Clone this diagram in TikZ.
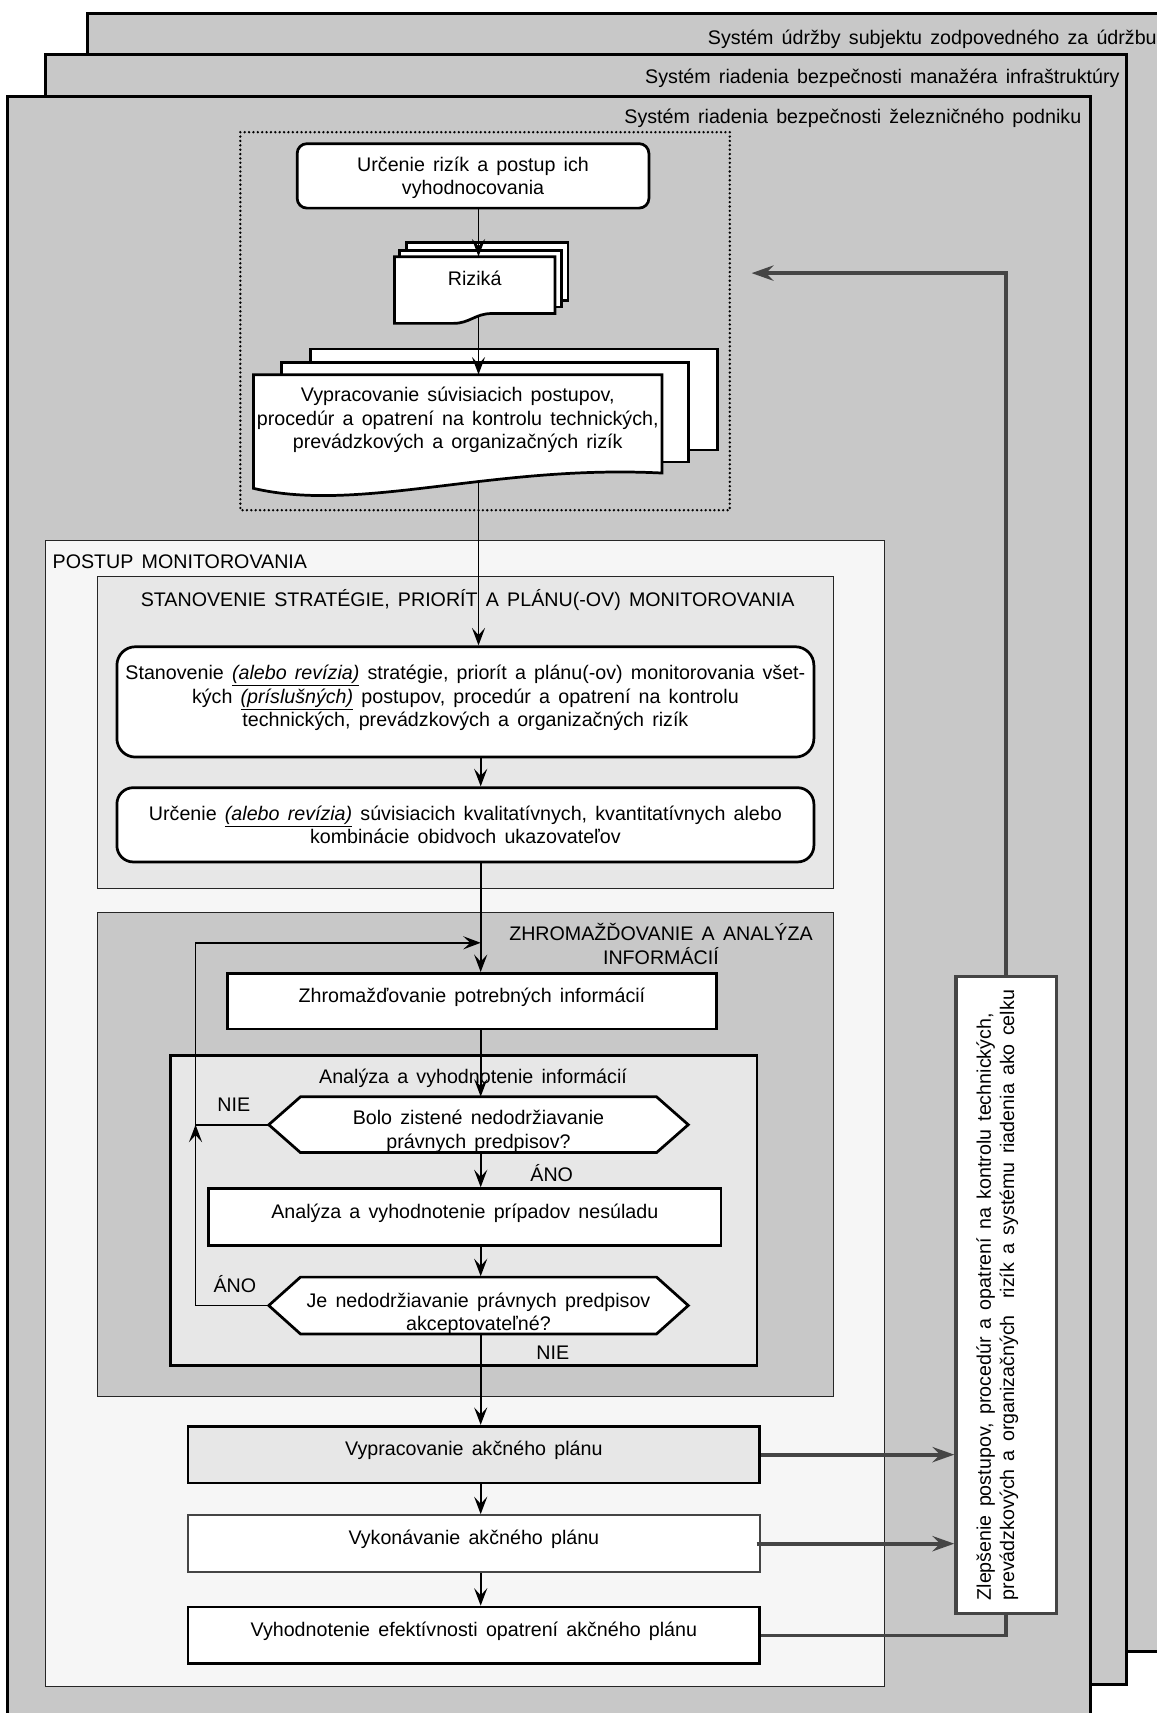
\documentclass[tikz,border=0pt]{standalone}
\usepackage{fontspec}
\setmainfont{Liberation Sans}[WordSpace=1.5]
\usetikzlibrary{arrows.meta,calc}
\definecolor{bggray}{gray}{0.785}
\definecolor{palebg}{gray}{0.965}
\definecolor{midbg}{gray}{0.905}
\definecolor{darkln}{gray}{0.27}
\newcommand\txtup[1]{\rule[-#1]{0pt}{0pt}}
\newcommand\txtdown[1]{\rule{0pt}{#1}}
\tikzset{
  every node/.style={font=\fontsize{18}{21.5}\selectfont},
  frame/.style={fill=bggray, draw=black, line width=2.6pt},
  grp/.style={draw=black!85, line width=0.9pt},
  box/.style={draw=black, line width=2.5pt, fill=white, inner sep=0pt, align=center},
  docln/.style={draw=black, fill=white, line width=2.5pt},
  txt/.style={inner sep=0pt, align=center},
  lbl/.style={inner sep=0pt},
  conn/.style={line width=1.5pt, -{Stealth[length=16pt,width=12pt,inset=6.5pt]}},
  fb/.style={draw=darkln, line width=3.5pt},
  fbarr/.style={fb, -{Stealth[length=20pt,width=14pt,inset=7pt]}}
}
\begin{document}
\begin{tikzpicture}[x=1pt,y=-1pt]
\useasboundingbox (0,0) rectangle (1059,1568);
\clip (0,0) rectangle (1059,1568);
% outer stacked frames
\draw[frame] (80,12) rectangle (1085,1512);
\draw[frame] (42,50) rectangle (1031,1542);
\draw[frame] (7,88) rectangle (998,1590);
\node[lbl, anchor=east] (f3l) at (1059,36) {Systém údržby subjektu zodpovedného za údržbu};
\node[lbl, anchor=east] (f2l) at (1025,72) {Systém riadenia bezpečnosti manažéra infraštruktúry};
\node[lbl, anchor=east] (f1l) at (990,108) {Systém riadenia bezpečnosti železničného podniku};
% dotted group
\draw[line width=2.4pt, dash pattern=on 0pt off 4pt, line cap=round] (220,121) rectangle (668,467);
% risk box
\node[box, rounded corners=9pt, minimum width=322pt, minimum height=59pt] (urc) at (433,161) {\txtdown{17pt}Určenie rizík a postup ich\\vyhodnocovania};
% Riziká document stack
\draw[docln] (372,222) rectangle (520,275);
\draw[docln] (366,229) rectangle (514,281);
\draw[docln] (361,296) -- (415,296) .. controls (430,296) and (435,287) .. (450,287) -- (508,287) -- (508,235) -- (361,235) -- cycle;
\node[txt, minimum width=147pt, minimum height=40pt] (riz) at (434.5,255) {Riziká};
\coordinate (rizb) at (438,289);
% big document stack
\draw[docln] (284,319.5) rectangle (657,412);
\draw[docln] (258,332) rectangle (630,423);
\draw[docln] (232,343) -- (606,343) -- (606,433) .. controls (450,425) and (330,470) .. (232,447) -- cycle;
\node[txt, minimum width=374pt, minimum height=83pt] (bigdoc) at (419,384.5) {Vypracovanie súvisiacich postupov,\\procedúr a opatrení na kontrolu technických,\\prevádzkových a organizačných rizík};
\coordinate (bdb) at (438,441);
\coordinate (mx) at (438,0);
\coordinate (mxb) at (440,0);
% monitoring process
\draw[grp, fill=palebg] (42,495) rectangle (810,1544);
\node[lbl, anchor=west] (postup) at (48,514) {POSTUP MONITOROVANIA};
\draw[grp, fill=midbg] (89,528) rectangle (763,813);
\node[txt] (stanT) at (428,549) {STANOVENIE STRATÉGIE, PRIORÍT A PLÁNU(-OV) MONITOROVANIA};
\node[box, rounded corners=17pt, minimum width=638pt, minimum height=101pt] (stan) at (426,642.5) {Stanovenie \underline{\textit{(alebo revízia)}} stratégie, priorít a plánu(-ov) monitorovania všet-\\kých \underline{\textit{(príslušných)}} postupov, procedúr a opatrení na kontrolu\\technických, prevádzkových a organizačných rizík\txtup{11pt}};
\node[box, rounded corners=15pt, minimum width=638pt, minimum height=68pt] (urc2) at (426,755) {Určenie \underline{\textit{(alebo revízia)}} súvisiacich kvalitatívnych, kvantitatívnych alebo\\kombinácie obidvoch ukazovateľov};
% collection and analysis
\draw[grp, fill=bggray] (89,835) rectangle (763,1278);
\node[txt] (zhrT) at (605,864) {ZHROMAŽĎOVANIE A ANALÝZA\\INFORMÁCIÍ};
\node[box, minimum width=448pt, minimum height=51pt] (zhr) at (432,916.5) {Zhromažďovanie potrebných informácií\txtup{11pt}};
\draw[line width=2.5pt, fill=midbg] (156,966) rectangle (693,1250);
\node[txt] (anT) at (433,987) {Analýza a vyhodnotenie informácií};
\draw[line width=2.5pt, fill=white] (246,1029.5) -- (275,1004) -- (601,1004) -- (630,1029.5) -- (601,1055) -- (275,1055) -- cycle;
\node[txt, minimum width=384pt, minimum height=51pt] (h1) at (438,1029.5) {\txtdown{25pt}Bolo zistené nedodržiavanie\\právnych predpisov?};
\node[lbl] (nie1) at (214,1011) {NIE};
\node[lbl] (ano1) at (505,1074) {ÁNO};
\node[box, minimum width=469pt, minimum height=52pt] (anal) at (425.5,1114) {Analýza a vyhodnotenie prípadov nesúladu\txtup{10pt}};
\draw[line width=2.5pt, fill=white] (246,1195) -- (275,1169) -- (601,1169) -- (630,1195) -- (601,1221) -- (275,1221) -- cycle;
\node[txt, minimum width=384pt, minimum height=52pt] (h2) at (438,1195) {\txtdown{28pt}Je nedodržiavanie právnych predpisov\\akceptovateľné?};
\node[lbl] (ano2) at (215,1175) {ÁNO};
\node[lbl] (nie2) at (506,1238) {NIE};
% action plan
\node[box, fill=midbg, minimum width=523.5pt, minimum height=52pt] (vyp) at (433.75,1331.5) {Vypracovanie akčného plánu\txtup{11pt}};
\node[box, draw=darkln, line width=2pt, minimum width=523.5pt, minimum height=52pt] (vyk) at (433.75,1413) {Vykonávanie akčného plánu\txtup{12pt}};
\node[box, minimum width=523.5pt, minimum height=52pt] (vyh) at (433.75,1497) {Vyhodnotenie efektívnosti opatrení akčného plánu\txtup{12pt}};
% improvement box
\node[box, draw=darkln, line width=3pt, rotate=90, align=left, minimum width=583pt, minimum height=92pt] (zl) at (921,1185.5) {Zlepšenie postupov, procedúr a opatrení na kontrolu technických,\\prevádzkových a organizačných\ \ rizík a systému riadenia ako celku\txtup{20pt}};
% connectors
\draw[conn] (urc.south -| mx) -- (riz.north -| mx);
\draw[conn] (rizb) -- (bigdoc.north -| mx);
\draw[conn] (bdb) -- (stan.north -| mx);
\draw[conn] (stan.south -| mxb) -- (urc2.north -| mxb);
\draw[conn] (urc2.south -| mxb) -- (zhr.north -| mxb);
\draw[conn] (zhr.south -| mxb) -- (h1.north -| mxb);
\draw[conn] (h1.south -| mxb) -- (anal.north -| mxb);
\draw[conn] (anal.south -| mxb) -- (h2.north -| mxb);
\draw[conn] (h2.south -| mxb) -- (vyp.north -| mxb);
\draw[conn] (vyp.south -| mxb) -- (vyk.north -| mxb);
\draw[conn] (vyk.south -| mxb) -- (vyh.north -| mxb);
\coordinate (lx) at (179,863);
\draw[conn] (h1.west) -- (h1.west -| lx) -- (lx) -- (lx -| mxb);
\draw[conn] (h2.west) -- (h2.west -| lx) -- (h1.west -| lx);
% feedback
\coordinate (tgt) at (688,250);
\draw[fbarr] (vyp.east) -- (vyp.east -| zl.north);
\draw[fbarr] ([xshift=-4pt]vyk.east) -- (vyk.east -| zl.north);
\draw[fb] (vyh.east) -- (vyh.east -| zl.west) -- (zl.west);
\draw[fbarr] (zl.east) -- (zl.east |- tgt) -- (tgt);
\end{tikzpicture}
\end{document}
